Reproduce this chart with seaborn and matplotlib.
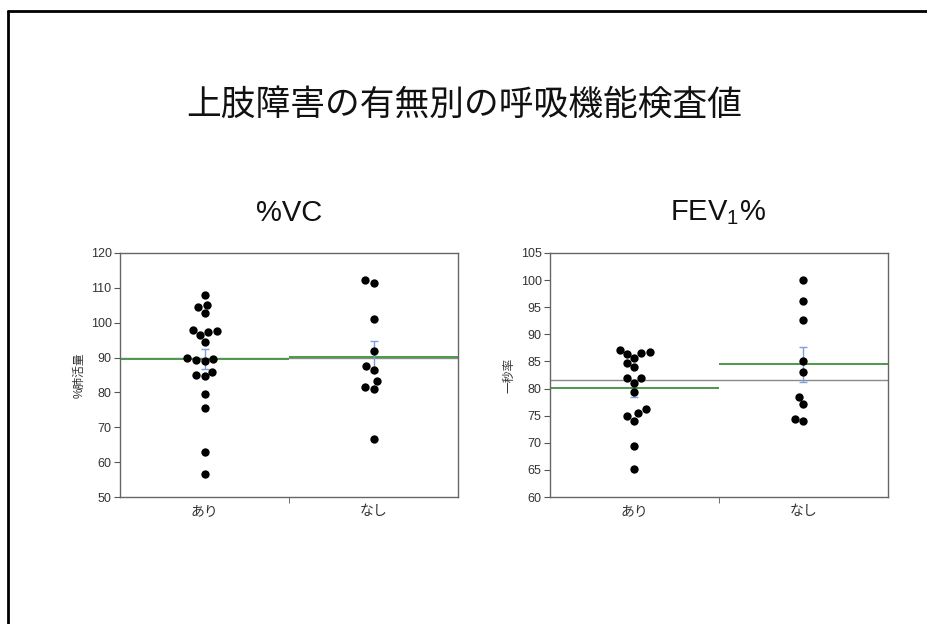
import numpy as np
import pandas as pd
import matplotlib
matplotlib.use("Agg")
import matplotlib.pyplot as plt
from matplotlib.lines import Line2D
import seaborn as sns

# データ
groups = ["あり", "なし"]

vc_ari = [108.0, 105.2, 104.5, 102.8, 98.0, 97.5, 97.2, 96.5, 94.5, 90.0,
          89.5, 89.3, 89.0, 85.8, 85.0, 84.6, 79.5, 75.5, 62.8, 56.5]
vc_nashi = [112.2, 111.5, 101.0, 92.0, 87.5, 86.3, 83.2, 81.5, 81.0, 66.5]

fev_ari = [87.2, 86.8, 86.6, 86.4, 85.6, 84.7, 84.0, 82.0, 81.9, 81.0,
           79.4, 76.2, 75.4, 74.9, 74.0, 69.4, 65.2]
fev_nashi = [100.0, 96.1, 92.6, 85.0, 83.0, 78.4, 77.1, 74.3, 74.0]

title = "上肢障害の有無別の呼吸機能検査値"
panel_titles = ["%VC", "FEV$_\\mathregular{1}$%"]
ylabels = ["%肺活量", "一秒率"]
yticks_list = [np.arange(50, 121, 10), np.arange(60, 106, 5)]

sns.set_style("white")
plt.rcParams['font.family'] = ['Liberation Sans', 'Noto Sans CJK JP', 'DejaVu Sans']

fig = plt.figure(figsize=(9.28, 6.24), dpi=100)

fig.text(0.5, 1 - 105 / 624, title, ha="center", va="center", fontsize=25,
         family=['Noto Sans CJK JP'], color="#111111")

positions = [[120 / 928, 1 - 497 / 624, 338 / 928, 244 / 624],
             [550 / 928, 1 - 497 / 624, 338 / 928, 244 / 624]]
panels = [(vc_ari, vc_nashi), (fev_ari, fev_nashi)]
title_x = [289 / 928, 718 / 928]

for k, (a, b) in enumerate(panels):
    ax = fig.add_axes(positions[k])
    df = pd.DataFrame({"group": [groups[0]] * len(a) + [groups[1]] * len(b),
                       "value": a + b})

    # 全体平均（灰）
    ax.axhline(df["value"].mean(), color="#8a8a8a", lw=1, zorder=1)
    # 群平均（緑）と標準誤差（青）
    for i, g in enumerate(groups):
        v = df.loc[df["group"] == g, "value"]
        m = v.mean()
        se = v.std() / np.sqrt(len(v))
        ax.hlines(m, i - 0.5, i + 0.5, color="#4a9a4a", lw=1.4, zorder=2)
        ax.errorbar(i, m, yerr=se, fmt="none", ecolor="#7f9fdc", elinewidth=1,
                    capsize=3, capthick=1, zorder=2)

    sns.swarmplot(data=df, x="group", y="value", order=groups, color="black",
                  size=6, ax=ax, zorder=3)

    ax.set_xlim(-0.5, 1.5)
    yt = yticks_list[k]
    ax.set_ylim(yt[0], yt[-1])
    ax.set_yticks(yt)
    ax.set_xticks([0, 1])
    ax.set_xticklabels(groups, fontsize=10, color="#333333")
    ax.set_xticks([0.5], minor=True)
    ax.tick_params(axis="x", which="major", length=0, pad=5)
    ax.tick_params(axis="x", which="minor", length=4, color="#555555",
                   direction="out", bottom=True)
    ax.tick_params(axis="y", length=4, color="#555555", direction="out",
                   left=True, labelsize=9, labelcolor="#333333", pad=2)
    ax.set_xlabel("")
    ax.set_ylabel(ylabels[k], fontsize=8.5, color="#333333", labelpad=4)
    for s in ax.spines.values():
        s.set_color("#666666")
        s.set_linewidth(1)

    fig.text(title_x[k], 1 - 213 / 624, panel_titles[k], ha="center",
             va="center", fontsize=21, color="#111111")

# スライドの枠線
fig.add_artist(Line2D([8 / 928, 1], [1 - 11 / 624, 1 - 11 / 624],
                      transform=fig.transFigure, color="black", lw=2))
fig.add_artist(Line2D([8 / 928, 8 / 928], [0, 1 - 11 / 624],
                      transform=fig.transFigure, color="black", lw=2))

fig.savefig("out.png", dpi=100)
